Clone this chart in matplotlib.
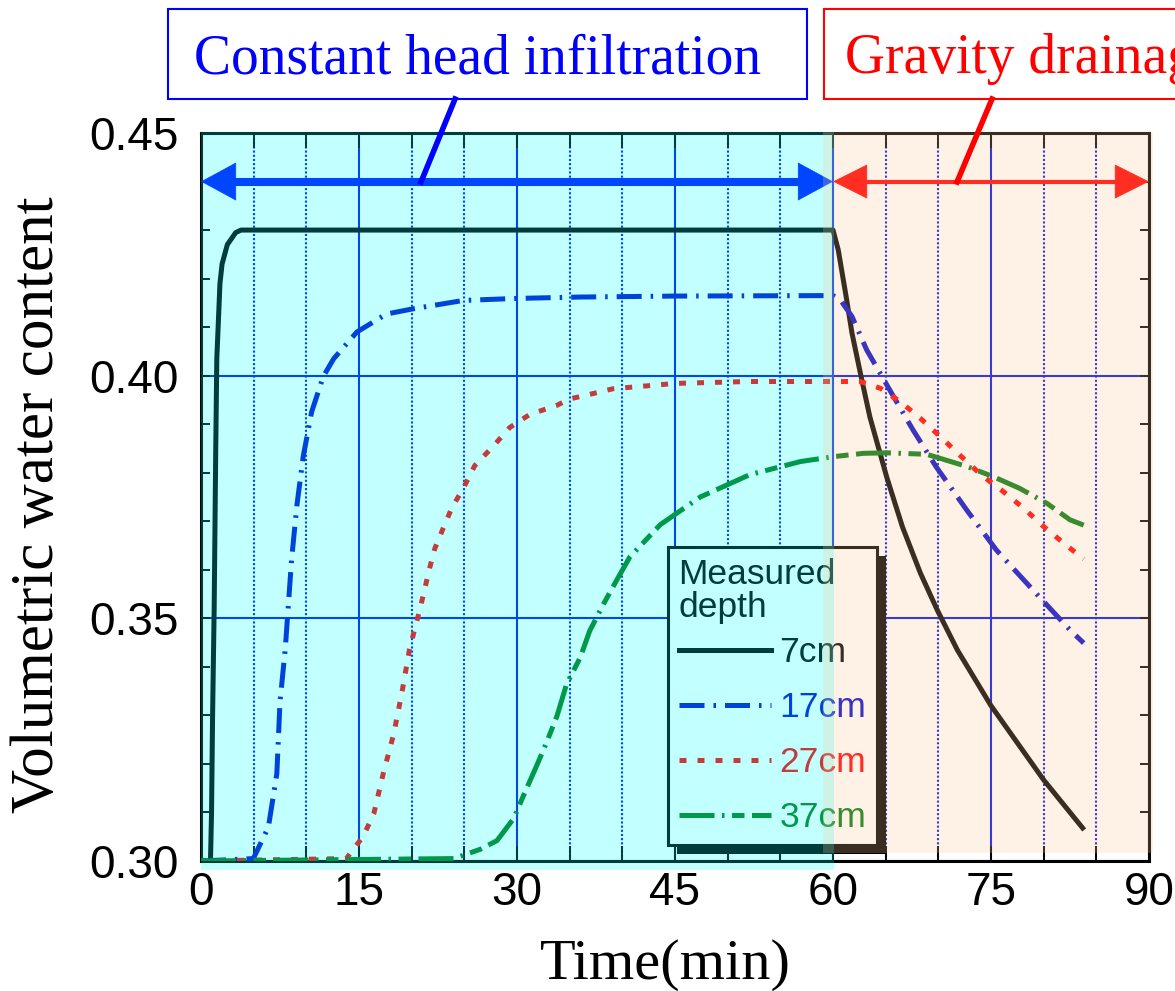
import matplotlib.pyplot as plt
from matplotlib.lines import Line2D
from matplotlib.patches import Rectangle
from matplotlib.ticker import FormatStrFormatter, MultipleLocator

SERIF = "Liberation Serif"
SANS = "Liberation Sans"

W_PX, H_PX = 1175, 991

# Measured volumetric water content at each depth (time in min).
DEPTHS = ["7cm", "17cm", "27cm", "37cm"]

T_7 = [0, 0.9, 1.0, 1.1, 1.25, 1.4, 1.5, 1.8, 2.0, 2.5, 3.3, 3.8, 60.0, 60.5,
       61.3, 61.8, 62.6, 63.5, 65.1, 66.6, 68.3, 69.9, 71.8, 75.0, 80.0, 83.7]
W_7 = [0.300, 0.300, 0.310, 0.330, 0.352, 0.385, 0.4035, 0.419, 0.423, 0.427,
       0.4295, 0.430, 0.430, 0.4259, 0.4156, 0.4088, 0.4005, 0.3915, 0.3791,
       0.3688, 0.3593, 0.3517, 0.3435, 0.332, 0.3167, 0.3068]

T_17 = [0, 4.97, 6.4, 7.2, 7.5, 8.0, 8.3, 8.6, 9.1, 9.7, 10.5, 11.6, 12.6, 14.8,
        17.6, 20.2, 24.9, 29.7, 36, 45, 60, 60.7, 61.8, 63.2, 65.4, 67.6, 69.8,
        72.7, 75.5, 79.0, 82.5, 83.8]
W_17 = [0.300, 0.3005, 0.307, 0.318, 0.3328, 0.3437, 0.3529, 0.3621, 0.3732,
        0.3833, 0.3925, 0.3998, 0.4035, 0.4090, 0.4127, 0.4138, 0.4155, 0.4159,
        0.4162, 0.4164, 0.4165, 0.4156, 0.4122, 0.4053, 0.3970, 0.3888, 0.3812,
        0.3723, 0.3641, 0.3558, 0.3476, 0.3449]

T_27 = [0, 13.8, 15.4, 16.4, 17.3, 18.3, 19.1, 19.8, 20.8, 21.7, 22.2, 23.0,
        23.8, 24.9, 26.0, 27.8, 29.3, 31.2, 33.8, 35.0, 37.2, 39.1, 45, 52, 60,
        62.6, 64.5, 66.4, 68.3, 70.2, 72.2, 74.1, 76.0, 78.1, 80.0, 81.9, 83.8]
W_27 = [0.300, 0.3005, 0.3051, 0.3097, 0.3180, 0.3262, 0.3350, 0.3437, 0.3520,
        0.3603, 0.3644, 0.3686, 0.3727, 0.3768, 0.3815, 0.3856, 0.3893, 0.3920,
        0.3939, 0.3952, 0.3963, 0.3973, 0.3984, 0.3988, 0.3988, 0.3988, 0.3974,
        0.3946, 0.3912, 0.3874, 0.3833, 0.3795, 0.3764, 0.3727, 0.3689, 0.3655,
        0.3622]

T_37 = [0, 24.0, 26.5, 28.1, 29.7, 30.6, 31.9, 32.8, 33.8, 34.7, 36.0, 36.9,
        38.2, 39.5, 40.7, 43.6, 47.4, 52.1, 56.9, 60, 62.9, 65.1, 68.9, 72.7,
        75.2, 77.7, 80.3, 82.5, 83.8]
W_37 = [0.300, 0.3005, 0.3024, 0.3042, 0.3088, 0.3134, 0.3198, 0.3244, 0.3299,
        0.3364, 0.3419, 0.3474, 0.3529, 0.3580, 0.3626, 0.3693, 0.3750, 0.3796,
        0.3823, 0.3833, 0.3840, 0.3841, 0.3838, 0.3813, 0.3792, 0.3768, 0.3737,
        0.3703, 0.3692]

# Test phases: infiltration 0-60 min, drainage 60-90 min
PHASE_EDGES = [0, 60, 90]
PHASE_NAMES = ["Constant head infiltration", "Gravity drainage"]

GRID_BLUE = "#0010e0"
LINE_COLORS = ["#000000", "#0008cc", "#ff0000", "#007a10"]
LINE_STYLES = [
    "-",
    (0, (5, 1.8, 0.5, 1.8)),
    (0, (1.4, 2.2)),
    (0, (7, 1.5, 0.5, 1.5, 2.5, 1.5)),
]


def fx(px):
    return px / W_PX


def fy(py):
    return 1 - py / H_PX


fig = plt.figure(figsize=(W_PX / 100, H_PX / 100), dpi=100)
ax = fig.add_axes([fx(201), fy(861), (1149 - 201) / W_PX, (861 - 133) / H_PX])
ax.set_xlim(0, 90)
ax.set_ylim(0.30, 0.45)

series = [(T_7, W_7), (T_17, W_17), (T_27, W_27), (T_37, W_37)]
for (t, w), name, color, ls in zip(series, DEPTHS, LINE_COLORS, LINE_STYLES):
    ax.plot(t, w, color=color, linestyle=ls, lw=3.6, label=name, zorder=3)

# axes, ticks and grid
ax.xaxis.set_major_locator(MultipleLocator(15))
ax.xaxis.set_minor_locator(MultipleLocator(5))
ax.yaxis.set_major_locator(MultipleLocator(0.05))
ax.yaxis.set_minor_locator(MultipleLocator(0.01))
ax.yaxis.set_major_formatter(FormatStrFormatter("%.2f"))
ax.tick_params(which="both", direction="in", top=True, right=True, width=1.4,
               color="black")
ax.tick_params(axis="x", which="both", length=10.5, pad=7)
ax.tick_params(axis="y", which="both", length=6.5, pad=16)
for lab in ax.get_xticklabels() + ax.get_yticklabels():
    lab.set_fontfamily(SANS)
    lab.set_fontsize(33)
ax.set_axisbelow(True)
ax.grid(which="major", color=GRID_BLUE, lw=1.5, ls="-")
ax.grid(which="minor", axis="x", color=GRID_BLUE, lw=1.5, ls=(0, (1, 1)))
for sp in ax.spines.values():
    sp.set_linewidth(2.2)
    sp.set_color("black")

# phase arrows
y_arrow = 0.44
for (x0, x1), color, lw, hl, hw in [((PHASE_EDGES[0], PHASE_EDGES[1]), "#000dff", 5.8, 24.5, 13.3),
                                     ((PHASE_EDGES[1], PHASE_EDGES[2]), "#ff0000", 3.0, 23.8, 11.9)]:
    head = hl * 100 / 72 / (948 / 90)
    ax.plot([x0 + head * 0.8, x1 - head * 0.8], [y_arrow, y_arrow], color=color,
            lw=lw, solid_capstyle="butt", zorder=4, clip_on=False)
    ax.annotate("", xy=(x1, y_arrow), xytext=(x0, y_arrow),
                arrowprops=dict(arrowstyle=f"<|-|>,head_length={hl},head_width={hw}",
                                mutation_scale=1, color=color, lw=0.5,
                                shrinkA=0, shrinkB=0),
                zorder=4, annotation_clip=False)

# legend with a hard drop shadow
leg = ax.legend(title="Measured\ndepth", loc="lower left",
                bbox_to_anchor=(0.4926, 0.022), borderaxespad=0,
                prop={"family": SANS, "size": 25.5},
                title_fontproperties={"family": SANS, "size": 25.5},
                alignment="left", labelcolor="linecolor", frameon=True,
                fancybox=False, edgecolor="black", facecolor="white",
                framealpha=1, handlelength=2.6, handletextpad=0.25,
                labelspacing=0.62, borderpad=0.3)
leg.get_frame().set_linewidth(2.2)
leg.get_title().set_linespacing(1.0)
leg._legend_box.sep = 9
leg.set_zorder(6)

fig.canvas.draw()
bb = leg.get_window_extent().transformed(ax.transAxes.inverted())
dx = 9 / 948
dy = 9 / 728
ax.add_patch(Rectangle((bb.x0 + dx, bb.y0 - dy), bb.width, bb.height,
                       transform=ax.transAxes, facecolor="black", lw=0,
                       zorder=5.5, clip_on=False))

# translucent phase shading laid over the plot
ax.add_patch(Rectangle((PHASE_EDGES[0], 0.2981), PHASE_EDGES[1] + 0.1, 0.4503 - 0.2981,
                       facecolor="#00ffff", alpha=0.24, lw=0, zorder=20,
                       clip_on=False))
ax.add_patch(Rectangle((PHASE_EDGES[1] - 0.95, 0.3016), PHASE_EDGES[2] - PHASE_EDGES[1] + 1.35,
                       0.4503 - 0.3016, facecolor="#fcc794", alpha=0.23, lw=0,
                       zorder=20, clip_on=False))

# axis titles
fig.text(fx(38), fy(505), "Volumetric water content", family=SERIF, size=44,
         rotation=90, ha="center", va="center")
fig.text(fx(665), fy(979), "Time(min)", family=SERIF, size=42, ha="center",
         va="baseline")

# phase name boxes with leader lines
fig.add_artist(Rectangle((fx(168), fy(99)), (807 - 168) / W_PX, 90 / H_PX,
                         transform=fig.transFigure, facecolor="white",
                         edgecolor="#0000ff", lw=1.5))
fig.text(fx(478), fy(73), PHASE_NAMES[0], family=SERIF, size=40,
         color="#0000ff", ha="center", va="baseline")
fig.add_artist(Line2D([fx(455), fx(421)], [fy(99), fy(182)], color="#0000ff",
                      lw=4, transform=fig.transFigure))

fig.add_artist(Rectangle((fx(824), fy(99)), 0.4, 90 / H_PX,
                         transform=fig.transFigure, facecolor="white",
                         edgecolor="#ff0000", lw=1.5))
fig.text(fx(845), fy(73), PHASE_NAMES[1], family=SERIF, size=40,
         color="#ff0000", ha="left", va="baseline")
fig.add_artist(Line2D([fx(992), fx(957)], [fy(99), fy(182)], color="#ff0000",
                      lw=4, transform=fig.transFigure))

fig.savefig("out.png", dpi=100)
